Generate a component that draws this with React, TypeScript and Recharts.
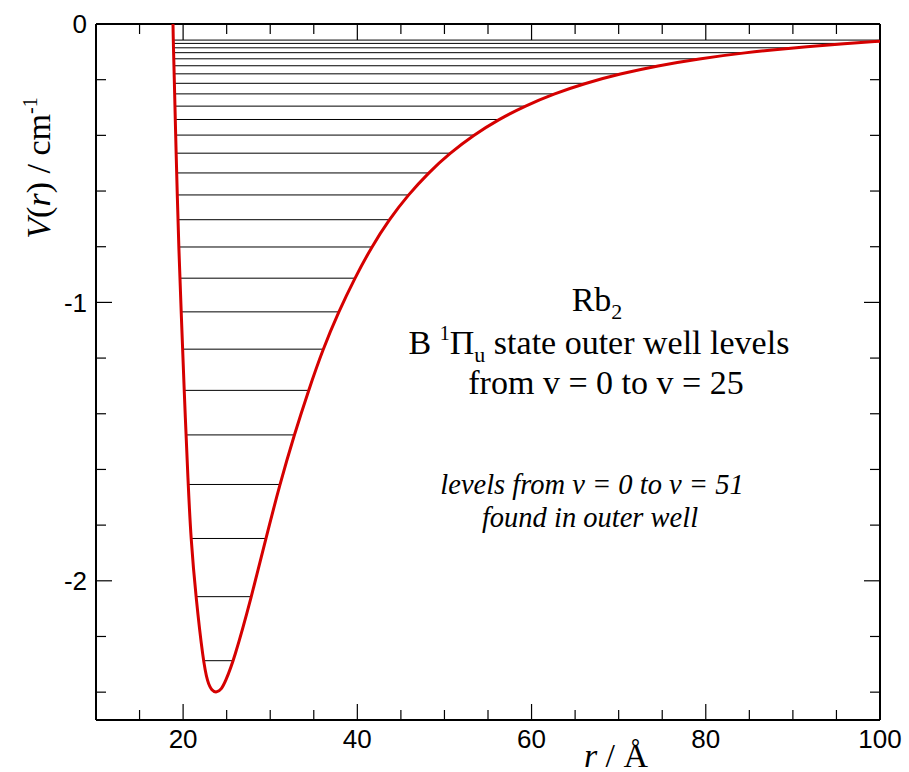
import { ComposedChart, Line, XAxis, YAxis, ReferenceLine } from "recharts";

// vibrational levels v = 0..25 (energy, inner and outer turning points)
const levelEnergy = [
  -2.287, -2.057, -1.848, -1.654, -1.476, -1.316, -1.168, -1.034, -0.913, -0.801,
  -0.703, -0.614, -0.535, -0.464, -0.399, -0.343, -0.295, -0.251, -0.213, -0.179,
  -0.15, -0.125, -0.103, -0.0855, -0.0697, -0.0578,
];
const levelInner = [
  22.3, 21.46, 20.89, 20.58, 20.31, 20.12, 19.94, 19.78, 19.63, 19.5,
  19.4, 19.33, 19.26, 19.2, 19.16, 19.1, 19.07, 19.03, 19.0, 18.97,
  18.95, 18.93, 18.91, 18.9, 18.88, 18.87,
];
const levelOuter = [
  25.82, 27.86, 29.5, 31.1, 32.75, 34.4, 36.05, 37.85, 39.7, 41.63,
  43.63, 45.83, 48.14, 50.62, 53.35, 56.2, 59.2, 62.54, 66.13, 70.15,
  74.45, 79.16, 84.48, 89.94, 96.33, 100,
];

// potential curve V(r)
const curveR = [
  18.84, 18.87, 18.91, 18.97, 19.03, 19.1, 19.2, 19.33, 19.5, 19.78, 20.12,
  20.58, 20.89, 21.46, 22.3, 22.8, 23.3, 23.85, 24.4, 24.85, 25.82, 27.86,
  29.5, 31.1, 32.75, 34.4, 36.05, 37.85, 39.7, 41.63, 43.63, 45.83, 48.14,
  50.62, 53.35, 56.2, 59.2, 62.54, 66.13, 70.15, 74.45, 79.16, 84.48, 89.94,
  96.33, 100,
];
const curveV = [
  0, -0.058, -0.103, -0.179, -0.251, -0.343, -0.464, -0.614, -0.801, -1.034, -1.316,
  -1.654, -1.848, -2.057, -2.287, -2.365, -2.395, -2.402, -2.39, -2.362, -2.287, -2.057,
  -1.848, -1.654, -1.476, -1.316, -1.168, -1.034, -0.913, -0.801, -0.703, -0.614, -0.535,
  -0.464, -0.399, -0.343, -0.295, -0.251, -0.213, -0.179, -0.15, -0.125, -0.103, -0.0855,
  -0.0697, -0.062,
];

const labelR = [20, 40, 60, 80, 100];
const majorR = [20, 40, 60, 80];
const minorR = [15, 25, 30, 35, 45, 50, 55, 65, 70, 75, 85, 90, 95];
const labelV = [0, -1, -2];
const majorV = [-1, -2];
const minorV = [-0.2, -0.4, -0.6, -0.8, -1.2, -1.4, -1.6, -1.8, -2.2, -2.4];

const curve = curveR.map((r, i) => ({ r, V: curveV[i] }));
const levels = levelEnergy.map((e, i) => [
  { r: levelInner[i], V: e },
  { r: levelOuter[i], V: e },
]);
const allR = [...minorR, ...labelR].sort((a, b) => a - b);
const allV = [...minorV, ...labelV].sort((a, b) => a - b);

const plot = { left: 96, right: 880, top: 24, bottom: 720 };
const tickFont = { fill: "#000", fontSize: 26, fontFamily: "Liberation Sans, Arial, sans-serif" };
const serif = "Liberation Serif, Times New Roman, serif";

// ticks point inward on both sides of the box
function RTick(props: any) {
  const { x, payload } = props;
  const v = payload.value;
  const len = majorR.includes(v) ? 16 : minorR.includes(v) ? 10 : 0;
  return (
    <g>
      {len > 0 && (
        <>
          <line x1={x} x2={x} y1={plot.bottom} y2={plot.bottom - len} stroke="#000" strokeWidth={1.2} />
          <line x1={x} x2={x} y1={plot.top} y2={plot.top + len} stroke="#000" strokeWidth={1.2} />
        </>
      )}
      {labelR.includes(v) && (
        <text x={x} y={plot.bottom + 10} dy="0.71em" textAnchor="middle" style={tickFont}>
          {v}
        </text>
      )}
    </g>
  );
}

function VTick(props: any) {
  const { y, payload } = props;
  const v = payload.value;
  const len = majorV.includes(v) ? 16 : minorV.includes(v) ? 10 : 0;
  return (
    <g>
      {len > 0 && (
        <>
          <line x1={plot.left} x2={plot.left + len} y1={y} y2={y} stroke="#000" strokeWidth={1.2} />
          <line x1={plot.right} x2={plot.right - len} y1={y} y2={y} stroke="#000" strokeWidth={1.2} />
        </>
      )}
      {labelV.includes(v) && (
        <text x={plot.left - 9} y={y} dy="0.355em" textAnchor="end" style={tickFont}>
          {v}
        </text>
      )}
    </g>
  );
}

export default function App() {
  return (
    <div style={{ position: "absolute", left: 0, top: 0, width: 909, height: 772, background: "#fff" }}>
      <ComposedChart width={909} height={772} margin={{ top: 24, right: 29, bottom: 0, left: 0 }}>
        <XAxis
          dataKey="r"
          type="number"
          domain={[10, 100]}
          allowDataOverflow
          ticks={allR}
          interval={0}
          height={52}
          tickLine={false}
          tickSize={0}
          tickMargin={10}
          tick={<RTick />}
          axisLine={{ stroke: "#000", strokeWidth: 2 }}
        />
        <YAxis
          type="number"
          domain={[-2.5, 0]}
          allowDataOverflow
          ticks={allV}
          interval={0}
          width={96}
          tickLine={false}
          tickSize={0}
          tickMargin={9}
          tick={<VTick />}
          axisLine={{ stroke: "#000", strokeWidth: 2 }}
        />
        <ReferenceLine y={0} stroke="#000" strokeWidth={2} />
        <ReferenceLine x={100} stroke="#000" strokeWidth={2} />
        {levels.map((pts, i) => (
          <Line
            key={"v" + i}
            data={pts}
            dataKey="V"
            type="linear"
            stroke="#000"
            strokeWidth={1}
            dot={false}
            activeDot={false}
            isAnimationActive={false}
          />
        ))}
        <Line
          data={curve}
          dataKey="V"
          type="basis"
          stroke="#d50000"
          strokeWidth={3}
          dot={false}
          activeDot={false}
          isAnimationActive={false}
        />
      </ComposedChart>
      <svg
        width={909}
        height={772}
        style={{ position: "absolute", left: 0, top: 0, pointerEvents: "none" }}
        fontFamily={serif}
        fill="#000"
      >
        <text transform="translate(50,168) rotate(-90)" textAnchor="middle" fontSize={34}>
          <tspan fontStyle="italic">V</tspan>(<tspan fontStyle="italic">r</tspan>) / cm
          <tspan dy={-13} fontSize={20}>-1</tspan>
        </text>
        <text x={616} y={767} textAnchor="middle" fontSize={34}>
          <tspan fontStyle="italic">r</tspan> / Å
        </text>
        <text x={597} y={311} textAnchor="middle" fontSize={34}>
          Rb<tspan dy={8} fontSize={22}>2</tspan>
        </text>
        <text x={599} y={354} textAnchor="middle" fontSize={34}>
          B <tspan dy={-14} fontSize={20}>1</tspan>
          <tspan dy={14}>Π</tspan>
          <tspan dy={8} fontSize={22}>u</tspan>
          <tspan dy={-8}> state outer well levels</tspan>
        </text>
        <text x={606} y={394} textAnchor="middle" fontSize={34}>
          from v = 0 to v = 25
        </text>
        <text x={592} y={494} textAnchor="middle" fontSize={28.5} fontStyle="italic">
          levels from v = 0 to v = 51
        </text>
        <text x={590} y={527} textAnchor="middle" fontSize={28.5} fontStyle="italic">
          found in outer well
        </text>
      </svg>
    </div>
  );
}
